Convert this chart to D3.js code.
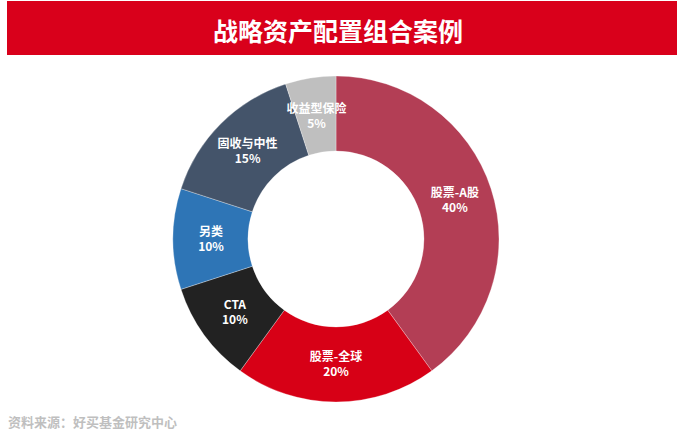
<!DOCTYPE html>
<html>
<head>
<meta charset="utf-8">
<script src="https://cdn.jsdelivr.net/npm/d3@7"></script>
<style>
  body { margin: 0; background: #fff; }
  text { font-family: "Noto Sans CJK SC", "Microsoft YaHei", sans-serif; }
</style>
</head>
<body>
<svg id="chart" width="677" height="435"></svg>
<script>
const categories = ["股票-A股", "股票-全球", "CTA", "另类", "固收与中性", "收益型保险"];
const shares = [40, 20, 10, 10, 15, 5];
const colors = ["#B33E55", "#D70016", "#222222", "#2E75B6", "#44546A", "#BFBFBF"];

const svg = d3.select("#chart");
const width = +svg.attr("width");
const height = +svg.attr("height");

// title bar
svg.append("rect")
    .attr("x", 7)
    .attr("y", 1)
    .attr("width", width - 7)
    .attr("height", 54)
    .attr("fill", "#D9001B");

svg.append("text")
    .attr("x", 338)
    .attr("y", 34)
    .attr("text-anchor", "middle")
    .attr("dominant-baseline", "middle")
    .attr("fill", "#fff")
    .style("font-size", "25px")
    .style("font-weight", "bold")
    .text("战略资产配置组合案例");

const cx = 336, cy = 239;
const outerR = 163, innerR = 88;

const data = categories.map((c, i) => ({ name: c, value: shares[i], color: colors[i] }));

const pie = d3.pie()
    .value(d => d.value)
    .sort(null);

const arc = d3.arc()
    .innerRadius(innerR)
    .outerRadius(outerR);

const labelArc = d3.arc()
    .innerRadius(125)
    .outerRadius(125);

const g = svg.append("g").attr("transform", `translate(${cx},${cy})`);

g.selectAll("path")
    .data(pie(data))
    .enter()
    .append("path")
    .attr("d", arc)
    .attr("fill", d => d.data.color)
    .attr("stroke", "#fff")
    .attr("stroke-width", 0.3);

// labels
const labels = g.selectAll(".slice-label")
    .data(pie(data))
    .enter()
    .append("text")
    .attr("class", "slice-label")
    .attr("transform", d => `translate(${labelArc.centroid(d)})`)
    .attr("text-anchor", "middle")
    .attr("fill", "#fff")
    .style("font-size", "12px")
    .style("font-weight", "bold");

labels.append("tspan")
    .attr("x", 0)
    .attr("y", -3)
    .text(d => d.data.name);

labels.append("tspan")
    .attr("x", 0)
    .attr("y", 12)
    .text(d => d.data.value + "%");

// source
svg.append("text")
    .attr("x", 8)
    .attr("y", 427)
    .attr("fill", "#BFBFBF")
    .style("font-size", "13px")
    .style("font-weight", "bold")
    .text("资料来源：好买基金研究中心");
</script>
</body>
</html>
